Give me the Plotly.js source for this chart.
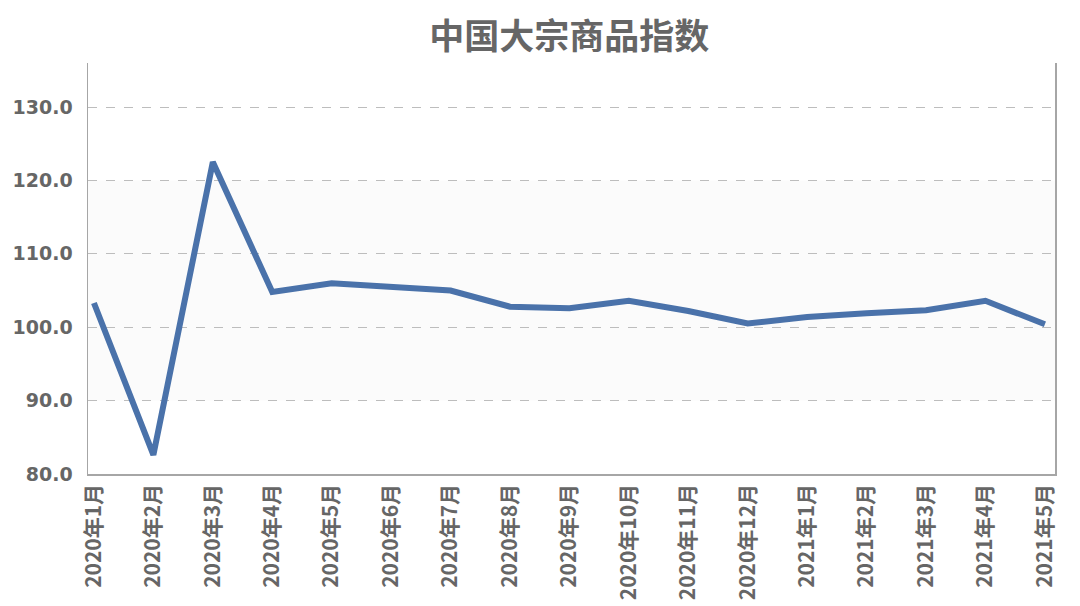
<!DOCTYPE html>
<html>
<head>
<meta charset="utf-8">
<script src="https://cdn.plot.ly/plotly-3.0.1.min.js"></script>
<style>html,body{margin:0;padding:0;background:#fff;}#chart{width:1080px;height:606px;}</style>
</head>
<body>
<div id="chart"></div>
<script>
const categories = ["2020年1月","2020年2月","2020年3月","2020年4月","2020年5月","2020年6月","2020年7月","2020年8月","2020年9月","2020年10月","2020年11月","2020年12月","2021年1月","2021年2月","2021年3月","2021年4月","2021年5月"];
const indexValues = [103.3, 82.6, 122.5, 104.8, 106.0, 105.5, 105.0, 102.8, 102.6, 103.6, 102.2, 100.5, 101.4, 101.9, 102.3, 103.6, 100.4];
const yTickValues = [80, 90, 100, 110, 120, 130];
const yTickLabels = ["80.0", "90.0", "100.0", "110.0", "120.0", "130.0"];
const chartTitle = "中国大宗商品指数";

const xIdx = categories.map((c, i) => i);

const trace = {
  x: xIdx,
  y: indexValues,
  type: 'scatter',
  mode: 'lines',
  line: {color: '#4a72aa', width: 6},
  hoverinfo: 'skip'
};

const layout = {
  width: 1080,
  height: 606,
  margin: {l: 88, r: 25, t: 63, b: 132},
  paper_bgcolor: '#ffffff',
  plot_bgcolor: '#ffffff',
  showlegend: false,
  font: {family: '"DejaVu Sans", "Noto Sans CJK SC", sans-serif', color: '#666666'},
  title: {
    text: '<b>' + chartTitle + '</b>',
    font: {family: '"Noto Sans CJK SC", sans-serif', size: 35, color: '#666666'},
    x: 0.527, xanchor: 'center', y: 0.94, yanchor: 'middle'
  },
  xaxis: {
    type: 'linear',
    range: [-0.1, 16.17],
    tickmode: 'array',
    tickvals: xIdx,
    ticktext: categories.map(c => '<b>' + c + '</b>'),
    tickangle: -90,
    tickfont: {family: '"Noto Sans CJK SC", sans-serif', size: 21, color: '#666666'},
    showgrid: false,
    zeroline: false,
    showline: true,
    linecolor: '#a6a6a6',
    linewidth: 1.5,
    ticks: '',
    ticklen: 0
  },
  yaxis: {
    range: [80, 136],
    tickmode: 'array',
    tickvals: yTickValues,
    ticktext: yTickLabels.map(t => '<b>' + t + '</b>'),
    tickfont: {family: '"DejaVu Sans", sans-serif', size: 19, color: '#666666'},
    showgrid: true,
    gridcolor: '#bdbdbd',
    griddash: 'dash',
    gridwidth: 1,
    zeroline: false,
    showline: true,
    mirror: true,
    linecolor: '#a6a6a6',
    linewidth: 1.5,
    ticks: '',
    ticklabelstandoff: 10
  },
  shapes: [
    {type: 'rect', xref: 'paper', yref: 'y', x0: 0, x1: 1, y0: 90, y1: 120, fillcolor: '#f7f7f7', opacity: 0.5, line: {width: 0}, layer: 'below'}
  ]
};

Plotly.newPlot('chart', [trace], layout, {displayModeBar: false, staticPlot: true});
</script>
</body>
</html>
